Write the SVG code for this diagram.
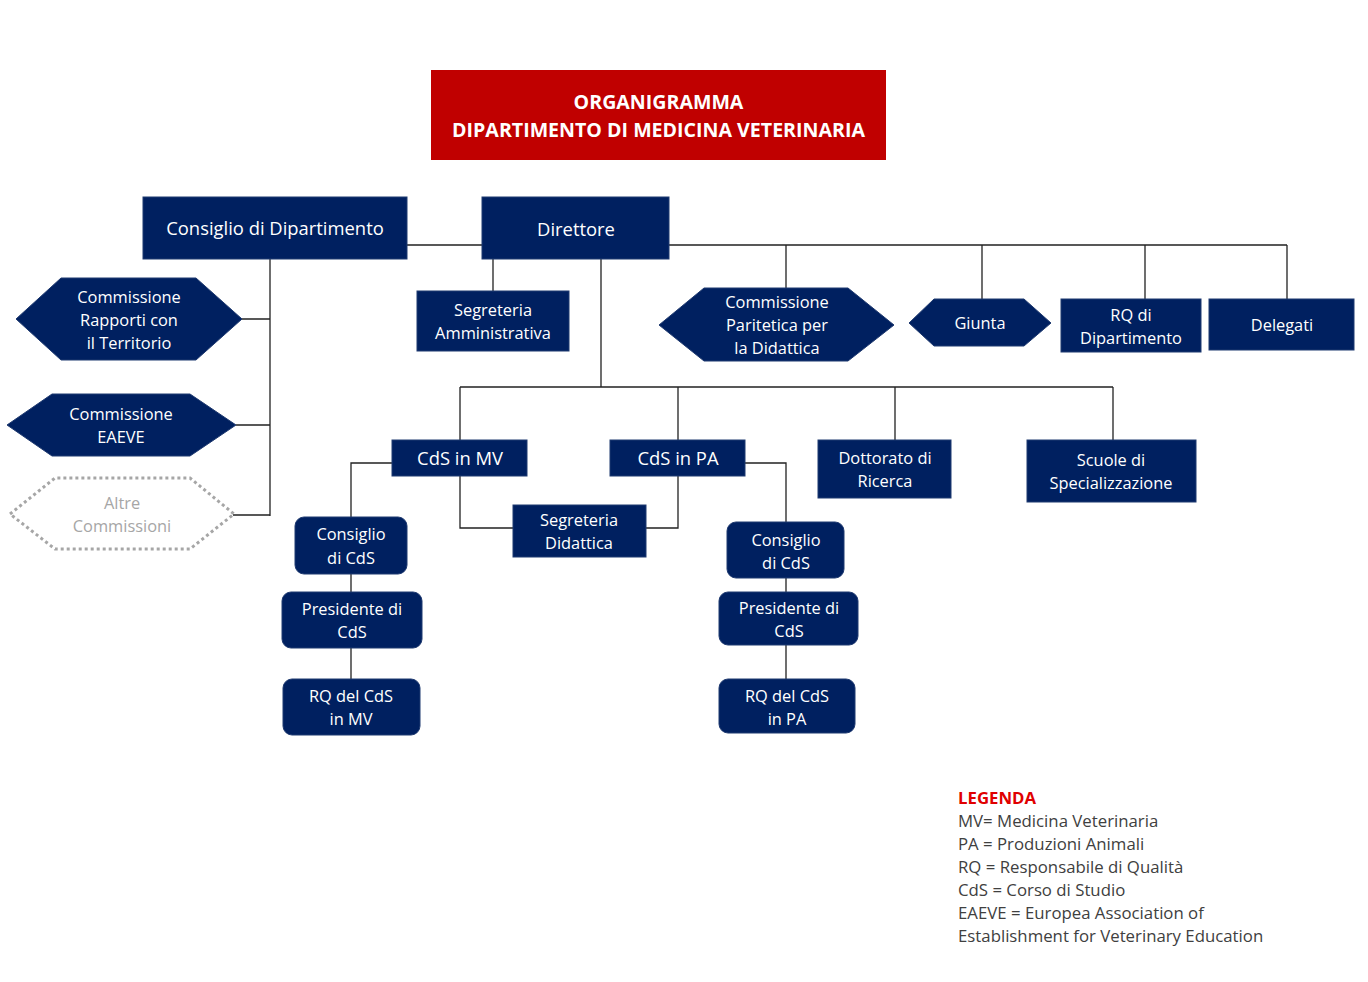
<svg xmlns="http://www.w3.org/2000/svg" width="1368" height="982" viewBox="0 0 1368 982">
<style>
.n{fill:#002060;stroke:#1F3A70;stroke-width:1}
.t{font-family:"Open Sans","Noto Sans",sans-serif;font-size:16.4px;fill:#fff;text-anchor:middle}
.tb{font-size:18.4px}
.c{fill:none;stroke:#222;stroke-width:1.3}
.lg{font-family:"Open Sans","Noto Sans",sans-serif;font-size:16.8px;fill:#404040}
</style>
<rect width="1368" height="982" fill="#fff"/>
<g id="connectors">
<path class="c" d="M407 245H482M669 245H1287M786 245V288M982 245V299M1145 245V299M1287 245V299"/>
<path class="c" d="M493 259V291M601 259V387M460 387H1113M460 387V440M678 387V440M895 387V440M1113 387V440"/>
<path class="c" d="M270 259V516M241 319H270M236 425H270M233 515H270"/>
<path class="c" d="M392 463H351V517M351 574V592M351 648V679"/>
<path class="c" d="M460 476V528H513M646 528H678V476"/>
<path class="c" d="M745 463H786V522M786 578V592M786 645V679"/>
</g>
<g id="title">
<rect x="431" y="70" width="455" height="90" fill="#C00000"/>
<text class="t" x="658.5" y="109" style="font-weight:bold;font-size:19.6px">ORGANIGRAMMA</text>
<text class="t" x="658.5" y="137" style="font-weight:bold;font-size:19.6px">DIPARTIMENTO DI MEDICINA VETERINARIA</text>
</g>
<g id="consiglio-dip"><rect class="n" x="143" y="197" width="264" height="62"/><text class="t tb" x="275" y="235">Consiglio di Dipartimento</text></g>
<g id="direttore"><rect class="n" x="482" y="197" width="187" height="62"/><text class="t tb" x="576" y="236">Direttore</text></g>
<g id="segreteria-amm"><rect class="n" x="417" y="291" width="152" height="60"/><text class="t" x="493" y="316">Segreteria</text><text class="t" x="493" y="339">Amministrativa</text></g>
<g id="comm-paritetica"><polygon class="n" points="659,325 704,288 848,288 894,325 848,361 704,361"/><text class="t" x="777" y="308">Commissione</text><text class="t" x="777" y="331">Paritetica per</text><text class="t" x="777" y="354">la Didattica</text></g>
<g id="giunta"><polygon class="n" points="909,323 934,299 1024,299 1051,323 1024,346 934,346"/><text class="t" x="980" y="329">Giunta</text></g>
<g id="rq-dip"><rect class="n" x="1061" y="299" width="140" height="53"/><text class="t" x="1131" y="321">RQ di</text><text class="t" x="1131" y="344">Dipartimento</text></g>
<g id="delegati"><rect class="n" x="1209" y="299" width="145" height="51"/><text class="t" x="1282" y="331">Delegati</text></g>
<g id="cds-mv"><rect class="n" x="392" y="440" width="135" height="36"/><text class="t tb" x="460" y="465">CdS in MV</text></g>
<g id="cds-pa"><rect class="n" x="610" y="440" width="135" height="36"/><text class="t tb" x="678" y="465">CdS in PA</text></g>
<g id="dottorato"><rect class="n" x="818" y="440" width="133" height="58"/><text class="t" x="885" y="464">Dottorato di</text><text class="t" x="885" y="487">Ricerca</text></g>
<g id="scuole"><rect class="n" x="1027" y="440" width="169" height="62"/><text class="t" x="1111" y="466">Scuole di</text><text class="t" x="1111" y="489">Specializzazione</text></g>
<g id="segreteria-did"><rect class="n" x="513" y="505" width="133" height="52"/><text class="t" x="579" y="526">Segreteria</text><text class="t" x="579" y="549">Didattica</text></g>
<g id="consiglio-cds-mv"><rect class="n" x="295" y="517" width="112" height="57" rx="9"/><text class="t" x="351" y="540">Consiglio</text><text class="t" x="351" y="564">di CdS</text></g>
<g id="presidente-mv"><rect class="n" x="282" y="592" width="140" height="56" rx="9"/><text class="t" x="352" y="615">Presidente di</text><text class="t" x="352" y="638">CdS</text></g>
<g id="rq-cds-mv"><rect class="n" x="283" y="679" width="137" height="56" rx="9"/><text class="t" x="351" y="702">RQ del CdS</text><text class="t" x="351" y="725">in MV</text></g>
<g id="consiglio-cds-pa"><rect class="n" x="727" y="522" width="117" height="56" rx="9"/><text class="t" x="786" y="546">Consiglio</text><text class="t" x="786" y="569">di CdS</text></g>
<g id="presidente-pa"><rect class="n" x="719" y="592" width="139" height="53" rx="9"/><text class="t" x="789" y="614">Presidente di</text><text class="t" x="789" y="637">CdS</text></g>
<g id="rq-cds-pa"><rect class="n" x="719" y="679" width="136" height="54" rx="9"/><text class="t" x="787" y="702">RQ del CdS</text><text class="t" x="787" y="725">in PA</text></g>
<g id="comm-territorio"><polygon class="n" points="16,319 61,278 196,278 242,319 196,360 61,360"/><text class="t" x="129" y="303">Commissione</text><text class="t" x="129" y="326">Rapporti con</text><text class="t" x="129" y="349">il Territorio</text></g>
<g id="comm-eaeve"><polygon class="n" points="7,425 52,394 190,394 236,425 190,456 52,456"/><text class="t" x="121" y="420">Commissione</text><text class="t" x="121" y="443">EAEVE</text></g>
<g id="altre-comm"><polygon points="10,514 55,478 190,478 234,514 190,549 55,549" fill="none" stroke="#A6A6A6" stroke-width="3" stroke-dasharray="3,3"/><text class="t" x="122" y="509" style="fill:#A6A6A6">Altre</text><text class="t" x="122" y="532" style="fill:#A6A6A6">Commissioni</text></g>
<g id="legenda">
<text class="lg" x="958" y="804" style="fill:#E00000;font-weight:bold">LEGENDA</text>
<text class="lg" x="958" y="827">MV= Medicina Veterinaria</text>
<text class="lg" x="958" y="850">PA = Produzioni Animali</text>
<text class="lg" x="958" y="873">RQ = Responsabile di Qualità</text>
<text class="lg" x="958" y="896">CdS = Corso di Studio</text>
<text class="lg" x="958" y="919">EAEVE = Europea Association of</text>
<text class="lg" x="958" y="942">Establishment for Veterinary Education</text>
</g>
</svg>
